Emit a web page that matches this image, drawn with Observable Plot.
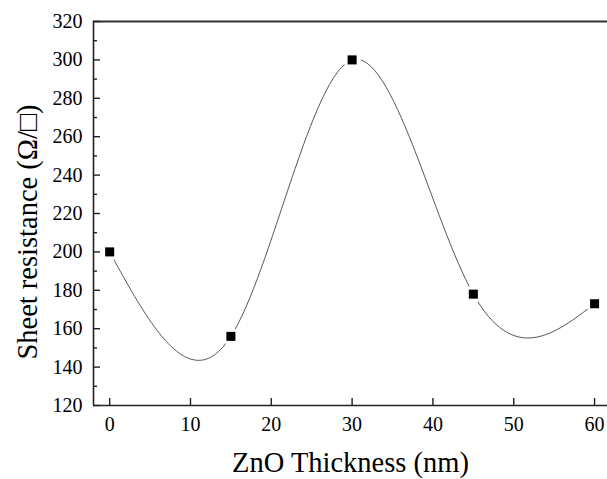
<!DOCTYPE html>
<html>
<head>
<meta charset="utf-8">
<script src="https://cdn.jsdelivr.net/npm/d3@7"></script>
<script src="https://cdn.jsdelivr.net/npm/@observablehq/plot@0.6"></script>
<style>
  html, body { margin: 0; padding: 0; background: #fff; }
  #chart svg { display: block; }
  #chart svg text { font-family: "Liberation Serif", "DejaVu Serif", serif !important; }
</style>
</head>
<body>
<div id="chart"></div>
<script>
const thickness = [0, 15, 30, 45, 60];
const resistance = [200, 156, 300, 178, 173];
const xTicks = [0, 10, 20, 30, 40, 50, 60];
const yTicks = [120, 140, 160, 180, 200, 220, 240, 260, 280, 300, 320];
const yMinorTicks = [130, 150, 170, 190, 210, 230, 250, 270, 290, 310];
const xLabel = "ZnO Thickness (nm)";
const yLabel = "Sheet resistance (\u03A9/\u25A1)";

const data = thickness.map((t, i) => ({t, r: resistance[i]}));
const font = "Liberation Serif";
const axisColor = "#222";

const chart = Plot.plot({
  width: 607,
  height: 479,
  marginLeft: 93,
  marginRight: 0,
  marginTop: 21,
  marginBottom: 74,
  style: {fontFamily: font, background: "#fff", color: "#000"},
  x: {domain: [-2, 61.6], axis: null},
  y: {domain: [120, 320], axis: null},
  marks: [
    Plot.ruleX([-2], {stroke: axisColor, strokeWidth: 1.6}),
    Plot.ruleY([120], {stroke: axisColor, strokeWidth: 1.6}),
    Plot.ruleY([320], {stroke: "#333", strokeWidth: 1.8}),
    Plot.axisY({ticks: yTicks, tickSize: 7, dx: 7, text: null, stroke: axisColor, strokeWidth: 1.4, label: null}),
    Plot.axisY({ticks: yMinorTicks, tickSize: 4, dx: 4, text: null, stroke: axisColor, strokeWidth: 1.4, label: null}),
    Plot.axisX({ticks: xTicks, tickSize: 7, dy: -7, text: null, stroke: axisColor, strokeWidth: 1.4, label: null}),
    Plot.axisY({ticks: yTicks, tickSize: 0, tickPadding: 11, fontSize: 20, fill: "#000", label: null, fontFamily: font}),
    Plot.axisX({ticks: xTicks, tickSize: 0, tickPadding: 11, fontSize: 20, fill: "#000", label: null, fontFamily: font}),
    Plot.text([xLabel], {frameAnchor: "bottom", textAnchor: "middle", lineAnchor: "middle", dy: 57, fontSize: 28.5, fill: "#000", fontFamily: font}),
    Plot.text([yLabel], {frameAnchor: "left", textAnchor: "middle", lineAnchor: "middle", rotate: -90, dx: -65.5, dy: 18.5, fontSize: 28.5, fill: "#000", fontFamily: font}),
    Plot.line(data, {x: "t", y: "r", curve: "natural", stroke: "#444", strokeWidth: 0.9}),
    Plot.dot(data, {x: "t", y: "r", r: 9, fill: "#fff", stroke: "none"}),
    Plot.dot(data, {x: "t", y: "r", symbol: "square", r: 5.1, fill: "#000", stroke: "none"})
  ]
});
document.getElementById("chart").appendChild(chart);
</script>
</body>
</html>
